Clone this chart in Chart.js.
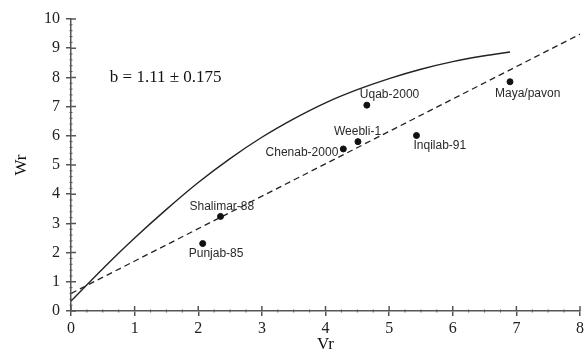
<!DOCTYPE html>
<html lang="en">
<head>
  <meta charset="UTF-8" />
  <title>Wr vs Vr</title>
  <script src="https://cdn.jsdelivr.net/npm/chart.js"></script>
  <style>
    html, body { margin: 0; padding: 0; background: #fff; }
    #wrap { width: 587px; height: 354px; position: relative; }
  </style>
</head>
<body>
<div id="wrap"><canvas id="chart"></canvas></div>
<script>
  // genotypes (Vr, Wr)
  const names = ['Punjab-85', 'Shalimar-88', 'Chenab-2000', 'Weebli-1', 'Uqab-2000', 'Inqilab-91', 'Maya/pavon'];
  const vr = [2.07, 2.35, 4.28, 4.51, 4.65, 5.43, 6.90];
  const wr = [2.31, 3.24, 5.55, 5.80, 7.05, 6.01, 7.85];

  // limiting parabola
  const curveVr = [0, 0.5, 1, 1.5, 2, 2.5, 3, 3.5, 4, 4.5, 5, 5.5, 6, 6.5, 6.9];
  const curveWr = [0.34, 1.45, 2.50, 3.48, 4.40, 5.22, 5.95, 6.58, 7.13, 7.58, 7.96, 8.28, 8.54, 8.74, 8.87];

  // regression line (dashed)
  const lineVr = [0, 8];
  const lineWr = [0.6, 9.48];

  const xTicks = [0, 1, 2, 3, 4, 5, 6, 7, 8];
  const yTicks = [0, 1, 2, 3, 4, 5, 6, 7, 8, 9, 10];
  const note = 'b = 1.11 ± 0.175';

  // label placement: [dx, dy, align] relative to the point
  const labelPos = [
    [-14, 10, 'left'],
    [-31, -10, 'left'],
    [-5, 4, 'right'],
    [-24, -10, 'left'],
    [-7, -10, 'left'],
    [-3, 10, 'left'],
    [-15, 12, 'left']
  ];

  const serif = '"Liberation Serif", "DejaVu Serif", serif';
  const sans = '"Liberation Sans", Arial, sans-serif';
  const axisColor = '#555';

  const extras = {
    id: 'extras',
    afterDatasetsDraw(chart) {
      const ctx = chart.ctx;
      const xs = chart.scales.x, ys = chart.scales.y;
      const a = chart.chartArea;
      ctx.save();

      // inner half of major ticks + minor ticks
      ctx.strokeStyle = axisColor;
      ctx.lineWidth = 1.5;
      ctx.beginPath();
      xTicks.forEach(v => { const p = xs.getPixelForValue(v); ctx.moveTo(p, a.bottom); ctx.lineTo(p, a.bottom - 5); });
      yTicks.forEach(v => { const p = ys.getPixelForValue(v); ctx.moveTo(a.left, p); ctx.lineTo(a.left + 5, p); });
      ctx.stroke();
      ctx.lineWidth = 1;
      ctx.beginPath();
      for (let v = 0.25; v < 8; v += 0.25) {
        if (Math.abs(v - Math.round(v)) < 1e-6) continue;
        const p = xs.getPixelForValue(v);
        ctx.moveTo(p, a.bottom - 1.5); ctx.lineTo(p, a.bottom + 1.5);
      }
      for (let v = 0.2; v < 10; v += 0.2) {
        if (Math.abs(v - Math.round(v)) < 1e-6) continue;
        const p = ys.getPixelForValue(v);
        ctx.moveTo(a.left - 1.5, p); ctx.lineTo(a.left + 1.5, p);
      }
      ctx.stroke();

      // point labels
      ctx.fillStyle = '#2a2a2a';
      ctx.font = '12px ' + sans;
      ctx.textBaseline = 'middle';
      names.forEach((n, i) => {
        const px = xs.getPixelForValue(vr[i]);
        const py = ys.getPixelForValue(wr[i]);
        const [dx, dy, al] = labelPos[i];
        ctx.textAlign = al;
        ctx.fillText(n, px + dx, py + dy);
      });

      // regression note
      ctx.fillStyle = '#111';
      ctx.font = '17px ' + serif;
      ctx.textAlign = 'left';
      ctx.fillText(note, xs.getPixelForValue(0.61), ys.getPixelForValue(8.0));

      // axis titles
      ctx.font = '17px ' + serif;
      ctx.textAlign = 'center';
      ctx.fillText('Vr', (a.left + a.right) / 2, 345);
      ctx.translate(22, (a.top + a.bottom) / 2);
      ctx.rotate(-Math.PI / 2);
      ctx.fillText('Wr', 0, 0);
      ctx.restore();
    }
  };

  new Chart(document.getElementById('chart'), {
    type: 'scatter',
    data: {
      datasets: [
        {
          label: 'genotypes',
          data: vr.map((x, i) => ({ x, y: wr[i] })),
          backgroundColor: '#111',
          borderColor: '#111',
          pointRadius: 3,
          order: 0
        },
        {
          label: 'parabola',
          data: curveVr.map((x, i) => ({ x, y: curveWr[i] })),
          showLine: true,
          borderColor: '#222',
          borderWidth: 1.4,
          pointRadius: 0,
          cubicInterpolationMode: 'monotone',
          order: 1
        },
        {
          label: 'regression',
          data: lineVr.map((x, i) => ({ x, y: lineWr[i] })),
          showLine: true,
          borderColor: '#222',
          borderWidth: 1.3,
          borderDash: [6, 4],
          pointRadius: 0,
          order: 2
        }
      ]
    },
    options: {
      responsive: true,
      maintainAspectRatio: false,
      animation: false,
      layout: { padding: { top: 19, right: 5, left: 0, bottom: 0 } },
      plugins: { legend: { display: false }, tooltip: { enabled: false } },
      scales: {
        x: {
          type: 'linear', min: 0, max: 8,
          afterBuildTicks: s => { s.ticks = xTicks.map(v => ({ value: v })); },
          afterFit: s => { s.height = 43; },
          ticks: { color: '#222', font: { family: serif, size: 16 }, padding: 3, maxRotation: 0 },
          grid: { display: true, drawOnChartArea: false, drawTicks: true, tickLength: 5, color: axisColor, lineWidth: 1.5 },
          border: { display: true, color: axisColor, width: 1.5 }
        },
        y: {
          type: 'linear', min: 0, max: 10,
          afterBuildTicks: s => { s.ticks = yTicks.map(v => ({ value: v })); },
          afterFit: s => { s.width = 71; },
          ticks: { color: '#222', font: { family: serif, size: 16 }, padding: 6 },
          grid: { display: true, drawOnChartArea: false, drawTicks: true, tickLength: 5, color: axisColor, lineWidth: 1.5 },
          border: { display: true, color: axisColor, width: 1.5 }
        }
      }
    },
    plugins: [extras]
  });
</script>
</body>
</html>
